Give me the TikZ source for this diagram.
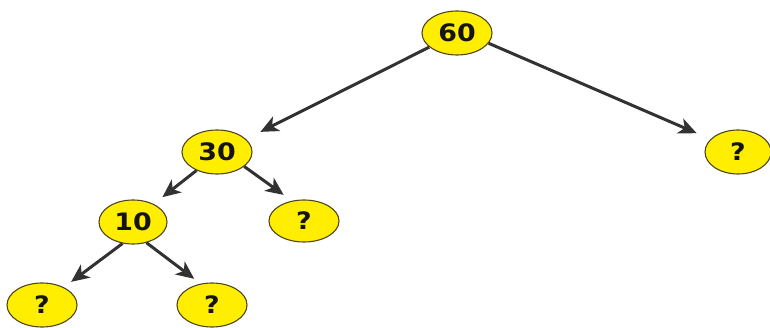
\documentclass[tikz,border=0pt]{standalone}
\usepackage{fontspec}
\setmainfont{DejaVu Sans}
\newfontfamily\nodefont[FakeStretch=1.12]{DejaVu Sans}
\usetikzlibrary{shapes.geometric,arrows.meta}
\definecolor{nodefill}{RGB}{255,238,0}
\definecolor{nodeedge}{RGB}{80,70,30}
\definecolor{arrowcol}{RGB}{50,50,50}
\tikzset{
  treenode/.style={ellipse, draw=nodeedge, line width=1.1pt, fill=nodefill,
    minimum width=70pt, minimum height=44pt, inner sep=0pt,
    font=\nodefont\fontsize{24}{24}\selectfont\bfseries, text=black!92},
  treearrow/.style={draw=arrowcol, line width=3pt,
    -{Stealth[length=18pt,width=16pt,inset=5pt]}}
}
\begin{document}
\begin{tikzpicture}[x=1pt,y=-1pt]
\useasboundingbox (0,0) rectangle (770,328);
\node[treenode] (n60) at (457,33) {60};
\node[treenode] (n30) at (217,152) {30};
\node[treenode, minimum width=66pt] (qr) at (738,152) {?};
\node[treenode, minimum width=68pt] (n10) at (133,222) {10};
\node[treenode, minimum height=42pt] (qm) at (304,221) {?};
\node[treenode] (qbl) at (42,305) {?};
\node[treenode] (qbr) at (212,305) {?};
\draw[treearrow, shorten >=16pt] (n60.207) -- (n30.24);
\draw[treearrow, shorten >=15pt] (n60.-18) -- (qr.155);
\draw[treearrow, shorten >=11pt] (n30.222) -- (n10.41);
\draw[treearrow, shorten >=10pt] (n30.-28) -- (qm.121);
\draw[treearrow, shorten >=9pt] (n10.244) -- (qbl.39);
\draw[treearrow, shorten >=8pt] (n10.-57) -- (qbr.118);
\end{tikzpicture}
\end{document}
